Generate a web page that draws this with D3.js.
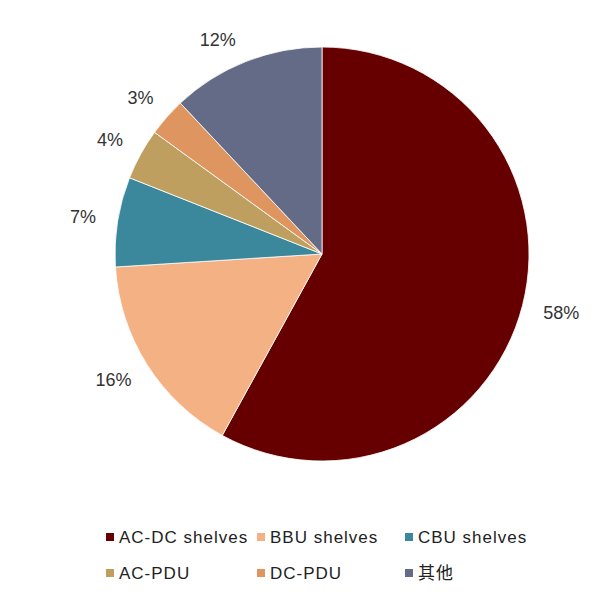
<!DOCTYPE html>
<html><head><meta charset="utf-8">
<script src="https://cdn.jsdelivr.net/npm/d3@7"></script>
<style>body{margin:0;background:#fff;} svg{display:block;}</style>
</head><body>
<svg id="chart" width="596" height="607"></svg>
<script>
const categories = ["AC-DC shelves","BBU shelves","CBU shelves","AC-PDU","DC-PDU","其他"];
const values = [58,16,7,4,3,12];
const colors = ["#660000","#F4B183","#3B879B","#BF9F5F","#DE955F","#636B86"];

const svg = d3.select("#chart");
const cx = 322, cy = 254, r = 207, R = 229, plotTop = 33;
const pie = d3.pie().sort(null).value(d=>d)(values);
const arc = d3.arc().innerRadius(0).outerRadius(r);
const g = svg.append("g").attr("transform",`translate(${cx},${cy})`);
g.selectAll("path").data(pie).join("path")
  .attr("d",arc).attr("fill",(d,i)=>colors[i])
  .attr("stroke","#fff").attr("stroke-width",0.8);

const labels = g.selectAll("text.lbl").data(pie).join("text")
  .attr("class","lbl")
  .attr("text-anchor","middle").attr("dominant-baseline","central")
  .attr("font-family","Liberation Sans, Arial, sans-serif").attr("font-size",18)
  .attr("fill","#333").text(d=>d.data+"%");
labels.each(function(d){
  const hw = this.getComputedTextLength()/2, hh = 7;
  let a = (d.startAngle+d.endAngle)/2;
  let s = Math.sin(a), c = -Math.cos(a);
  let x = R*s + s*hw, y = R*c + c*hh;
  if (cy + y - hh < plotTop) {
    const cosT = (cy - (plotTop + hh)) / (R + hh);
    const sinT = Math.sign(s) * Math.sqrt(1 - cosT*cosT);
    x = R*sinT + sinT*hw; y = -(cy - (plotTop + hh));
  }
  d3.select(this).attr("x",x).attr("y",y);
});

const legX = [106,257,405], legY = [537,573];
const lg = svg.append("g");
categories.forEach((c,i)=>{
  const x = legX[i%3], y = legY[Math.floor(i/3)];
  lg.append("rect").attr("x",x).attr("y",y-4).attr("width",8).attr("height",8).attr("fill",colors[i]);
  lg.append("text").attr("x",x+13).attr("y",y).attr("dominant-baseline","central")
    .attr("font-family","Liberation Sans, Arial, 'Noto Sans CJK SC', sans-serif").attr("font-size",17)
    .attr("letter-spacing",1.0).attr("fill","#222").text(c);
});
</script>
</body></html>
